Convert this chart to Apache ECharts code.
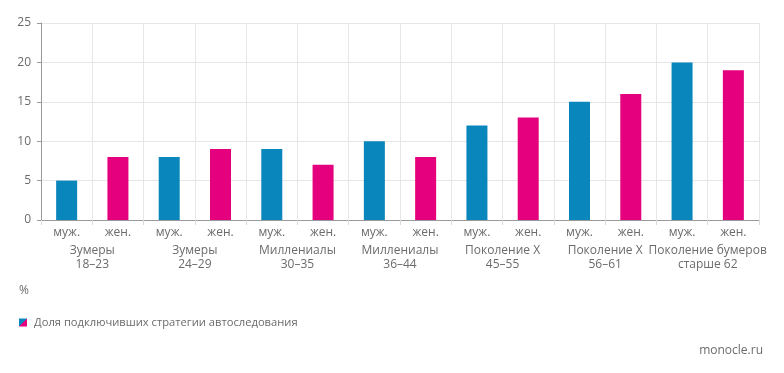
<!DOCTYPE html>
<html><head><meta charset="utf-8">
<script src="https://cdn.jsdelivr.net/npm/echarts@6/dist/echarts.min.js"></script>
<style>html,body{margin:0;padding:0;background:#fff}#c{width:784px;height:373px}</style>
</head><body><div id="c"></div>
<script>
const sexLabels = ['муж.','жен.','муж.','жен.','муж.','жен.','муж.','жен.','муж.','жен.','муж.','жен.','муж.','жен.'];
const groupLabels = ['Зумеры\n18–23','Зумеры\n24–29','Миллениалы\n30–35','Миллениалы\n36–44','Поколение X\n45–55','Поколение X\n56–61','Поколение бумеров\nстарше 62'];
const values = [5, 8, 8, 9, 9, 7, 10, 8, 12, 13, 15, 16, 20, 19];
const yTicks = [0, 5, 10, 15, 20, 25];
const seriesName = 'Доля подключивших стратегии автоследования';
const BLUE = '#0986bb', PINK = '#e5007d';
const FONT = '"Open Sans", "Noto Sans", sans-serif';
const TXT = '#6b6b6b';

const chart = echarts.init(document.getElementById('c'), null, {renderer:'canvas'});
chart.setOption({
  animation: false,
  textStyle: {fontFamily: FONT},
  grid: {left: 41, right: 25, top: 23, bottom: 153, containLabel: false},
  legend: {
    left: 14, top: 312, itemWidth: 8, itemHeight: 8, itemGap: 8,
    icon: 'rect',
    textStyle: {color: TXT, fontSize: 11.2, fontFamily: FONT, padding: [0,0,0,2]},
    data: [seriesName]
  },
  graphic: [
    {type:'text', left: 19, top: 285, style:{text:'%', fill: TXT, font: '12px ' + FONT}},
    {type:'text', right: 21, top: 345, style:{text:'monocle.ru', fill: TXT, font: '12px ' + FONT}}
  ],
  xAxis: [
    {
      type: 'category', data: sexLabels, boundaryGap: true,
      axisLine: {lineStyle: {color: '#9a9a9a'}},
      axisTick: {show: true, length: 5, lineStyle: {color: '#d8d8d8'}},
      splitLine: {show: true, lineStyle: {color: '#e6e6e6'}},
      axisLabel: {color: TXT, fontSize: 12, margin: 7}
    },
    {
      type: 'category', data: groupLabels, position: 'bottom', offset: 24,
      axisLine: {show: false}, axisTick: {show: false}, splitLine: {show: false},
      axisLabel: {color: TXT, fontSize: 12, lineHeight: 14, margin: 0, interval: 0}
    }
  ],
  yAxis: {
    type: 'value', min: 0, max: 25, interval: 5,
    axisLine: {show: true, lineStyle: {color: '#9a9a9a'}},
    axisTick: {show: true, length: 4, lineStyle: {color: '#9a9a9a'}},
    splitLine: {show: true, lineStyle: {color: '#e6e6e6'}},
    axisLabel: {color: TXT, fontSize: 12, margin: 10,
      formatter: v => yTicks.includes(v) ? String(v) : ''}
  },
  series: [{
    name: seriesName, type: 'bar', xAxisIndex: 0, barWidth: 21,
    itemStyle: {color: new echarts.graphic.LinearGradient(0,0,1,1,[
      {offset:0,color:BLUE},{offset:0.5,color:BLUE},{offset:0.5,color:PINK},{offset:1,color:PINK}])},
    data: values.map((v,i) => ({value: v, itemStyle: {color: i % 2 === 0 ? BLUE : PINK}}))
  }]
});
</script></body></html>
